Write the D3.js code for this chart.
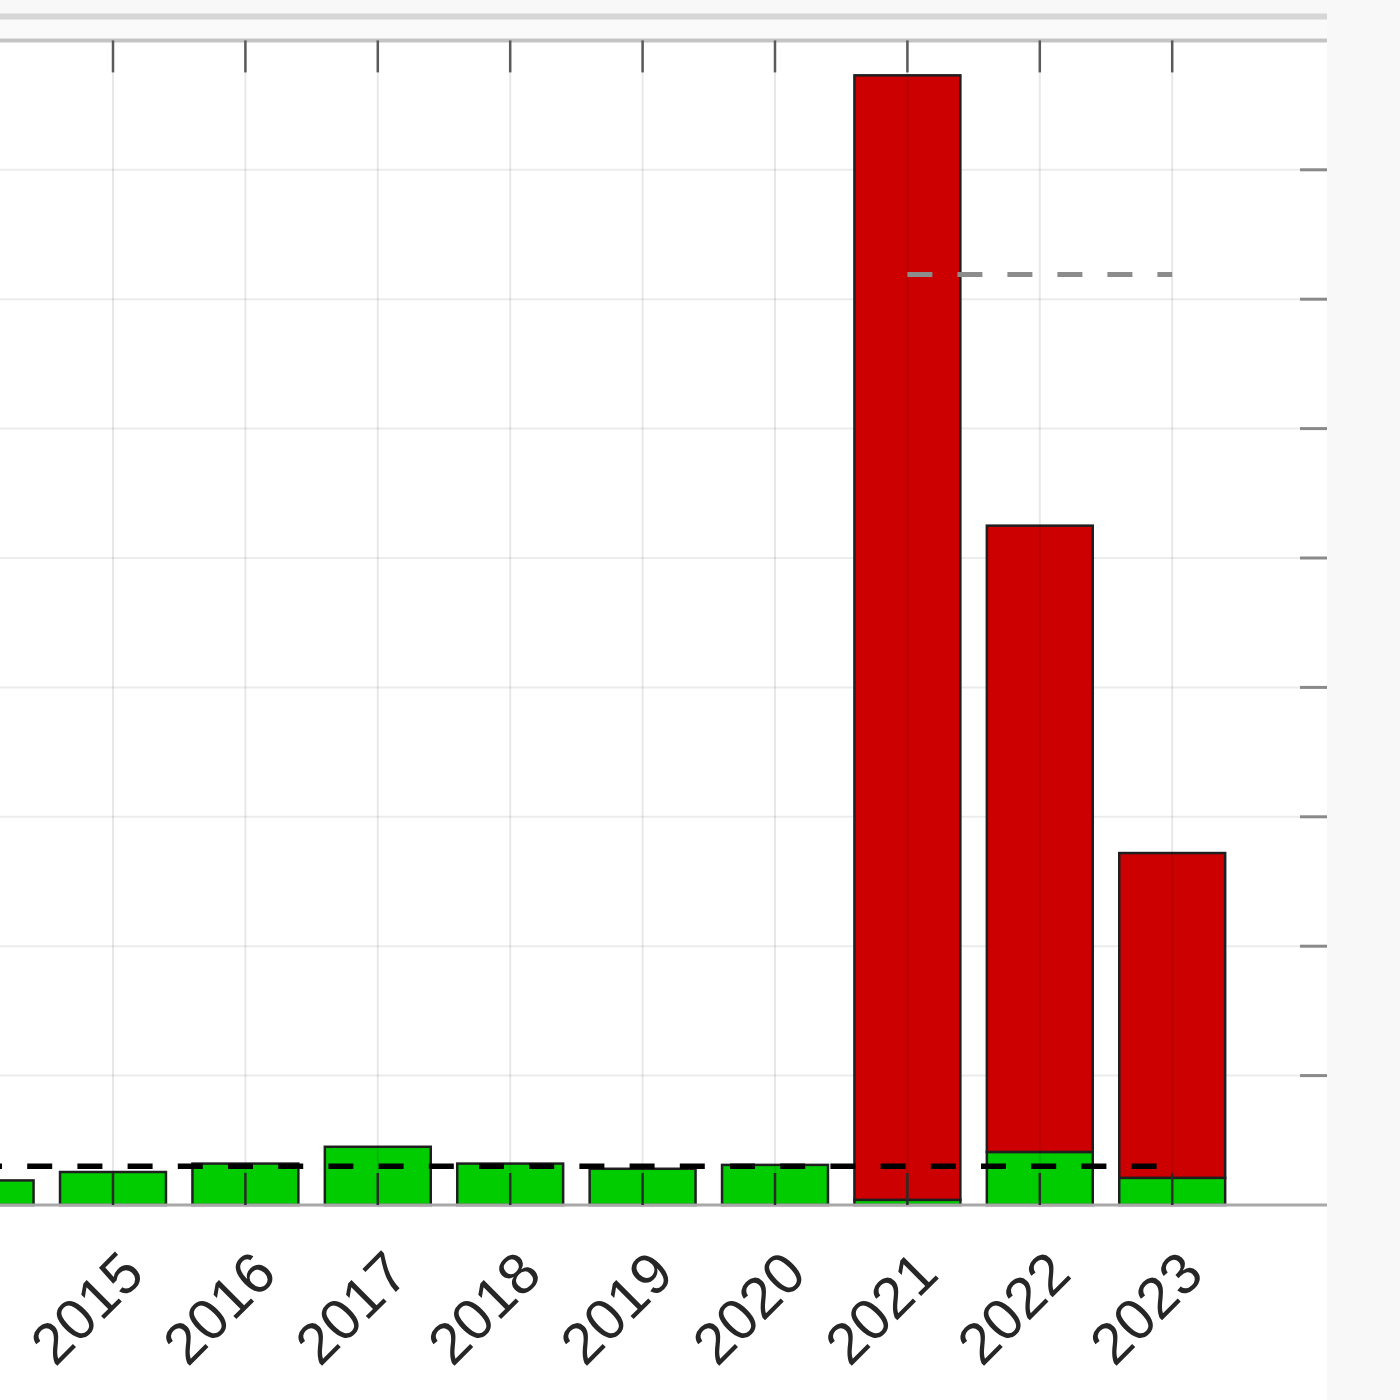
<!DOCTYPE html>
<html>
<head>
<meta charset="utf-8">
<script src="https://cdn.jsdelivr.net/npm/d3@7"></script>
<style>
  html, body { margin: 0; padding: 0; background: #f8f8f8; }
  svg { display: block; }
  text { font-family: "Liberation Sans", Arial, Helvetica, sans-serif; }
</style>
</head>
<body>
<svg id="chart" width="1400" height="1400"></svg>
<script>
// ---- data (y in axis-tick units) ----
const categories = ["2014*", "2015", "2016", "2017", "2018", "2019", "2020", "2021", "2022", "2023"];
const greenValues = [0.19, 0.255, 0.32, 0.45, 0.32, 0.28, 0.31, 0.04, 0.41, 0.21];
const redValues   = [0,    0,     0,    0,    0,    0,    0,    8.69, 4.84, 2.51];
const yTicks = [0, 1, 2, 3, 4, 5, 6, 7, 8, 9];
const referenceLevel = 0.30;          // black dashed line
const referenceFrom = "2014*", referenceTo = "2023";
const targetLevel = 7.19;             // grey dashed line
const targetFrom = "2021", targetTo = "2023";

// ---- layout ----
const svg = d3.select("#chart");
const plotRight = 1327, plotTop = 40.4, plotBottom = 1205;

const x = d3.scaleBand()
  .domain(categories)
  .range([-85.6, 1238.4])
  .paddingInner(0.2)
  .paddingOuter(0.1);
const cx = c => x(c) + x.bandwidth() / 2;

const y = d3.scaleLinear().domain([0, 9]).range([plotBottom, plotTop]);

// frame / window chrome
svg.append("rect").attr("x", 0).attr("y", 0).attr("width", 1400).attr("height", 1400).attr("fill", "#f8f8f8");
svg.append("rect").attr("x", 0).attr("y", 20).attr("width", plotRight).attr("height", 1380).attr("fill", "#ffffff");
svg.append("rect").attr("x", 0).attr("y", 20).attr("width", plotRight).attr("height", 18).attr("fill", "#fafafa");
svg.append("line").attr("x1", 0).attr("x2", plotRight).attr("y1", 16.5).attr("y2", 16.5)
  .attr("stroke", "#d6d6d6").attr("stroke-width", 6);

// horizontal grid (under bars)
svg.append("g").selectAll("line").data(yTicks.filter(t => t > 0 && t < 9)).join("line")
  .attr("x1", 0).attr("x2", plotRight)
  .attr("y1", d => y(d)).attr("y2", d => y(d))
  .attr("stroke", "#ececec").attr("stroke-width", 2);

// stacked bars: green bottom, red on top
const bars = svg.append("g");
bars.selectAll("rect.g").data(categories).join("rect")
  .attr("x", d => x(d)).attr("width", x.bandwidth())
  .attr("y", (d, i) => y(greenValues[i]))
  .attr("height", (d, i) => y(0) - y(greenValues[i]))
  .attr("fill", "#00cc00").attr("stroke", "#1f1f1f").attr("stroke-width", 2.5);
bars.selectAll("rect.r").data(categories.filter((d, i) => redValues[i] > 0)).join("rect")
  .attr("x", d => x(d)).attr("width", x.bandwidth())
  .attr("y", d => { const i = categories.indexOf(d); return y(greenValues[i] + redValues[i]); })
  .attr("height", d => { const i = categories.indexOf(d); return y(greenValues[i]) - y(greenValues[i] + redValues[i]); })
  .attr("fill", "#cc0000").attr("stroke", "#1f1f1f").attr("stroke-width", 2.5);

// vertical grid on top (translucent)
svg.append("g").selectAll("line").data(categories).join("line")
  .attr("x1", d => cx(d)).attr("x2", d => cx(d))
  .attr("y1", plotTop).attr("y2", plotBottom)
  .attr("stroke", "#000").attr("stroke-opacity", 0.09).attr("stroke-width", 2);

// axes lines
svg.append("line").attr("x1", 0).attr("x2", plotRight).attr("y1", plotTop).attr("y2", plotTop)
  .attr("stroke", "#c4c4c4").attr("stroke-width", 4);
svg.append("line").attr("x1", 0).attr("x2", plotRight).attr("y1", plotBottom).attr("y2", plotBottom)
  .attr("stroke", "#a8a8a8").attr("stroke-width", 3);

// ticks
const tickLen = 32;
svg.append("g").selectAll("line").data(categories).join("line")
  .attr("x1", d => cx(d)).attr("x2", d => cx(d))
  .attr("y1", plotTop).attr("y2", plotTop + tickLen)
  .attr("stroke", "#5a5a5a").attr("stroke-width", 2.5);
svg.append("g").selectAll("line").data(categories).join("line")
  .attr("x1", d => cx(d)).attr("x2", d => cx(d))
  .attr("y1", plotBottom - tickLen).attr("y2", plotBottom)
  .attr("stroke", "#2a2a2a").attr("stroke-width", 2.5);
svg.append("g").selectAll("line").data(yTicks.filter(t => t > 0 && t < 9)).join("line")
  .attr("x1", plotRight - 27).attr("x2", plotRight)
  .attr("y1", d => y(d)).attr("y2", d => y(d))
  .attr("stroke", "#8a8a8a").attr("stroke-width", 3);

// reference lines
svg.append("line")
  .attr("x1", cx(referenceFrom)).attr("x2", cx(referenceTo))
  .attr("y1", y(referenceLevel)).attr("y2", y(referenceLevel))
  .attr("stroke", "#000").attr("stroke-width", 5.5)
  .attr("stroke-dasharray", "25,25.2").attr("stroke-dashoffset", 3.6);
svg.append("line")
  .attr("x1", cx(targetFrom)).attr("x2", cx(targetTo))
  .attr("y1", y(targetLevel)).attr("y2", y(targetLevel))
  .attr("stroke", "#8c8c8c").attr("stroke-width", 5)
  .attr("stroke-dasharray", "25,25");

// x labels, rotated
svg.append("g").selectAll("text").data(categories).join("text")
  .attr("transform", d => `translate(${cx(d) + 4},${plotBottom + 42}) rotate(-45)`)
  .attr("text-anchor", "end")
  .attr("dy", "0.72em")
  .attr("font-size", 58)
  .attr("fill", "#262626")
  .text(d => d);
</script>
</body>
</html>
